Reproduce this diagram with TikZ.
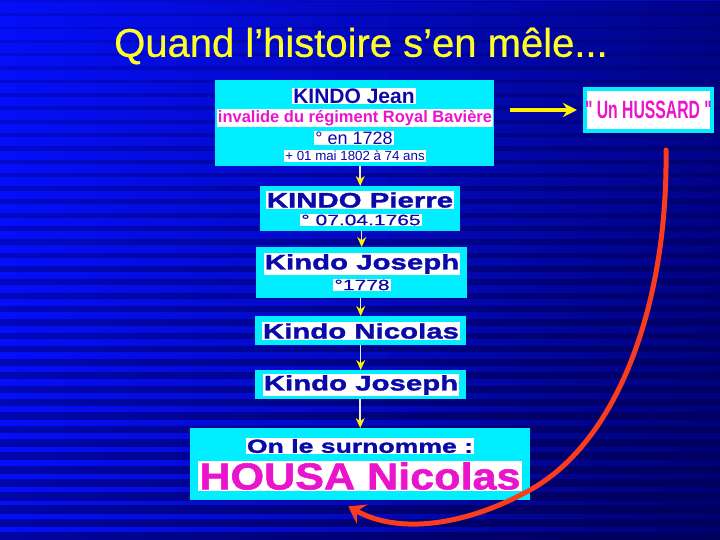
\documentclass[tikz,border=0pt]{standalone}
\usepackage{fontspec}
\setmainfont{Liberation Sans}
\newfontfamily\titlefont[FakeBold=0.6]{Liberation Sans}
\newfontfamily\widefont[FakeStretch=1.4,FakeBold=1.5]{Liberation Sans}
\newfontfamily\widelight[FakeStretch=1.4,FakeBold=0.5]{Liberation Sans}
\newfontfamily\broadfont[FakeStretch=1.15,FakeBold=1.5]{Liberation Sans}
\newfontfamily\narrowfont[FakeStretch=0.63]{Liberation Sans}
\usetikzlibrary{arrows.meta,fadings}
\definecolor{slideblue}{RGB}{5,15,250}
\definecolor{navy}{RGB}{0,0,95}
\definecolor{boxcyan}{RGB}{0,238,255}
\definecolor{inkblue}{RGB}{10,10,170}
\definecolor{pinkish}{RGB}{235,20,205}
\definecolor{arrowred}{RGB}{250,60,30}
\definecolor{titleyellow}{RGB}{255,255,40}
\tikzfading[name=faderight, left color=transparent!100, middle color=transparent!88, right color=transparent!25]
\tikzfading[name=fadecorner, inner color=transparent!35, outer color=transparent!100]
\tikzfading[name=stripefade, left color=transparent!45, middle color=transparent!35, right color=transparent!0]
\tikzset{>=stealth}

\begin{document}
\begin{tikzpicture}[x=1pt,y=-1pt,
  card/.style={fill=boxcyan, inner sep=0pt, anchor=north west},
  tag/.style={fill=white, inner sep=1pt, text=inkblue},
  down/.style={draw=white!85!gray, line width=1.5pt, -{Stealth[length=10pt,width=9pt,color=yellow]}}]
\useasboundingbox (0,0) rectangle (720,540);
% background
\begin{scope}
\clip (0,0) rectangle (720,540);
\fill[slideblue] (0,0) rectangle (720,540);
\foreach \k in {0,...,40}{
  \pgfmathsetmacro\ytop{\k*13.3}
  \pgfmathsetmacro\band{2.5+6.5*\ytop/540}
  \pgfmathsetmacro\op{0.35+0.65*\ytop/540}
  \fill[navy, opacity=\op, path fading=stripefade] (0,\ytop) rectangle (720,\ytop+\band);
}
\fill[navy, path fading=faderight] (0,0) rectangle (720,540);
\fill[navy, opacity=0.7, path fading=fadecorner] (380,200) rectangle (1060,880);
\end{scope}
\node[text=titleyellow, font=\titlefont\fontsize{40}{44}\selectfont] (title) at (361,46) {Quand l’histoire s’en mêle...};
% boxes
\node[card, minimum width=279pt, minimum height=86pt] (jean) at (215,80) {};
\node[card, minimum width=200pt, minimum height=45pt] (pierre) at (260,186) {};
\node[card, minimum width=211pt, minimum height=51pt] (joseph) at (256,247) {};
\node[card, minimum width=211pt, minimum height=29pt] (nicolas) at (255,316) {};
\node[card, minimum width=211pt, minimum height=29pt] (josephb) at (255,370) {};
\node[card, minimum width=340pt, minimum height=72pt] (housa) at (190,428) {};
\node[fill=white, draw=boxcyan, line width=4pt, minimum width=127pt, minimum height=42pt, inner sep=0pt,
  text=pinkish, font=\narrowfont\bfseries\fontsize{25}{28}\selectfont] (hussard) at (648.5,110) {" Un HUSSARD "};
% texts
\node[tag, font=\bfseries\fontsize{21}{24}\selectfont] (jeanname) at (354,96) {KINDO Jean};
\node[tag, text=pinkish, font=\bfseries\fontsize{16.5}{19}\selectfont] (jeanrank) at (355,118) {invalide du régiment Royal Bavière};
\node[tag, font=\fontsize{18}{20}\selectfont] (jeanborn) at (354,138) {° en 1728};
\node[tag, font=\fontsize{13.3}{15}\selectfont] (jeandied) at (355,156) {+ 01 mai 1802 à 74 ans};
\node[tag, font=\widefont\bfseries\fontsize{21}{23}\selectfont] (pierrename) at (360,200) {KINDO Pierre};
\node[tag, font=\widelight\fontsize{15}{16}\selectfont] (pierreborn) at (361,220) {° 07.04.1765};
\node[tag, font=\widefont\bfseries\fontsize{21}{23}\selectfont] (josephname) at (362,264) {Kindo Joseph};
\node[tag, font=\widelight\fontsize{15}{16}\selectfont] (josephborn) at (362,285) {°1778};
\node[tag, font=\widefont\bfseries\fontsize{21}{23}\selectfont] (nicolasname) at (361,331) {Kindo Nicolas};
\node[tag, font=\widefont\bfseries\fontsize{21}{23}\selectfont] (josephbname) at (361,385) {Kindo Joseph};
\node[tag, font=\widefont\bfseries\fontsize{19}{21}\selectfont] (surname) at (360,446) {On le surnomme :};
\node[tag, text=pinkish, font=\broadfont\bfseries\fontsize{37.5}{40}\selectfont] (housaname) at (360,476) {HOUSA Nicolas};
% arrows
\draw[down] (pierre.north |- jean.south) -- (pierre.north);
\draw[down] (joseph.north |- pierre.south) -- (joseph.north);
\draw[down] (nicolas.north |- joseph.south) -- (nicolas.north);
\draw[down] (josephb.north |- nicolas.south) -- (josephb.north);
\draw[down] (housa.north |- josephb.south) -- (housa.north);
\draw[yellow, line width=4pt, shorten <=16pt, shorten >=6pt, -{Stealth[length=14pt,width=14pt]}]
  (jean.east |- hussard.west) -- (hussard.west);
\coordinate (tail) at (666,150);
\draw[arrowred, line width=5pt, line cap=round, -{Stealth[length=16pt,width=22pt,inset=6pt]}]
  (tail) .. controls (668,300) and (620,440) .. (530,490)
  .. controls (467,525) and (400,535) .. ([xshift=-12pt,yshift=-6pt]housa.south);
\end{tikzpicture}
\end{document}
